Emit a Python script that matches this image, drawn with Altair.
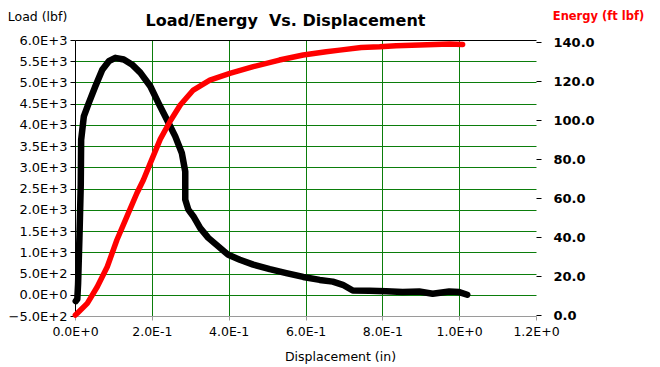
import altair as alt
import pandas as pd

# ---- data ----
load_disp = [0.002, 0.006, 0.008, 0.012, 0.015, 0.016, 0.023, 0.036, 0.053, 0.071, 0.088,
             0.105, 0.127, 0.148, 0.170, 0.196, 0.217, 0.239, 0.261, 0.278, 0.287, 0.287,
             0.295, 0.308, 0.326, 0.347, 0.373, 0.399, 0.429, 0.464, 0.507, 0.550, 0.594,
             0.637, 0.671, 0.697, 0.723, 0.767, 0.810, 0.853, 0.896, 0.931, 0.974, 1.000, 1.021]
load_lbf = [-150, -100, 250, 1500, 2600, 3650, 4200, 4520, 4910, 5300, 5500,
            5580, 5540, 5425, 5230, 4910, 4520, 4130, 3730, 3340, 2900, 2240,
            2005, 1850, 1570, 1340, 1140, 940, 825, 710, 605, 510, 420,
            350, 310, 235, 100, 95, 80, 65, 78, 25, 78, 64, 0]

energy_disp = [0.001, 0.006, 0.032, 0.058, 0.084, 0.109, 0.135, 0.161, 0.178, 0.196, 0.222,
               0.248, 0.274, 0.308, 0.351, 0.403, 0.464, 0.532, 0.594, 0.654, 0.689, 0.745,
               0.793, 0.836, 0.897, 0.975, 1.009]
energy_ftlbf = [0.0, 0.9, 6.0, 14.5, 24.8, 38.5, 50.5, 62.5, 69.3, 78.0, 90.3,
                99.6, 107.8, 115.5, 120.6, 124.1, 127.5, 130.9, 133.5, 135.2, 136.0, 137.4,
                137.7, 138.2, 138.6, 139.1, 138.9]

x_ticks = [0.0, 0.2, 0.4, 0.6, 0.8, 1.0, 1.2]
load_ticks = [-500, 0, 500, 1000, 1500, 2000, 2500, 3000, 3500, 4000, 4500, 5000, 5500, 6000]
energy_ticks = [0, 20, 40, 60, 80, 100, 120, 140]

load_df = pd.DataFrame({"disp": load_disp, "load": load_lbf, "i": range(len(load_disp))})
energy_df = pd.DataFrame({"disp": energy_disp, "energy": energy_ftlbf, "i": range(len(energy_disp))})

FONT = "DejaVu Sans"
GREEN = "#0b7d0b"
sci = "replace(format(datum.value, '.1e'), 'e', 'E')"

x_enc = alt.X(
    "disp:Q",
    scale=alt.Scale(domain=[0, 1.2], nice=False, zero=False),
    axis=alt.Axis(
        values=x_ticks, labelExpr=sci, title="Displacement (in)",
        grid=True, labelFlush=False, labelOverlap=False,
        gridColor={"condition": [{"test": "datum.value <= 0 || datum.value >= 1.2", "value": "transparent"}],
                   "value": GREEN},
        domainColor="#9a9a9a", tickColor="#9a9a9a", tickSize=4, labelPadding=5,
        labelFont=FONT, labelFontSize=12.5, labelColor="black",
        titleFont=FONT, titleFontSize=12.5, titleFontWeight="normal", titleColor="black",
        titleX=265, titleY=40, titleAlign="center", titleBaseline="middle",
    ),
)

load_line = alt.Chart(load_df).mark_line(
    color="black", strokeWidth=6.5, strokeCap="round", strokeJoin="round"
).encode(
    x=x_enc,
    y=alt.Y(
        "load:Q",
        scale=alt.Scale(domain=[-500, 6000], nice=False, zero=False),
        axis=alt.Axis(
            values=load_ticks, labelExpr=sci, title="Load (lbf)",
            grid=True, labelFlush=False, labelOverlap=False,
            gridColor={"condition": [{"test": "datum.value >= 6000", "value": "black"},
                                     {"test": "datum.value <= -500", "value": "transparent"}],
                       "value": GREEN},
            domainColor="black", tickColor="black", tickSize=5, labelPadding=3,
            labelFont=FONT, labelFontSize=13, labelColor="black",
            titleFont=FONT, titleFontSize=12.5, titleFontWeight="normal", titleColor="black",
            titleAngle=0, titleX=-38, titleY=-24, titleAlign="center", titleBaseline="middle",
        ),
    ),
    order=alt.Order("i:Q"),
)

energy_line = alt.Chart(energy_df).mark_line(
    color="#ff0000", strokeWidth=5.5, strokeCap="round", strokeJoin="round"
).encode(
    x=x_enc,
    y=alt.Y(
        "energy:Q",
        scale=alt.Scale(domain=[-0.5, 141.2], nice=False, zero=False),
        axis=alt.Axis(
            orient="right", values=energy_ticks, format=".1f", title="Energy (ft lbf)",
            grid=False, domain=False, tickColor="black", tickSize=5, labelPadding=12,
            labelFlush=False, labelOverlap=False,
            labelFont=FONT, labelFontSize=13, labelFontWeight="bold", labelColor="black",
            titleFont=FONT, titleFontSize=11.5, titleFontWeight="bold", titleColor="#ff0000",
            titleAngle=0, titleX=62, titleY=-24, titleAlign="center", titleBaseline="middle",
        ),
    ),
    order=alt.Order("i:Q"),
)

chart = alt.layer(load_line, energy_line).resolve_scale(y="independent").properties(
    width=461, height=276,
    autosize=alt.AutoSizeParams(type="none"),
    padding={"left": 67, "top": 32, "right": 116, "bottom": 50},
    title=alt.TitleParams(
        "Load/Energy\u00a0 Vs. Displacement", font=FONT, fontSize=16, fontWeight="bold",
        color="black", anchor="middle", frame="group", dx=-20, dy=23,
    ),
    background="white",
).configure_view(stroke=None)

chart.save("out.html", embed_options={"renderer": "svg", "actions": False})
